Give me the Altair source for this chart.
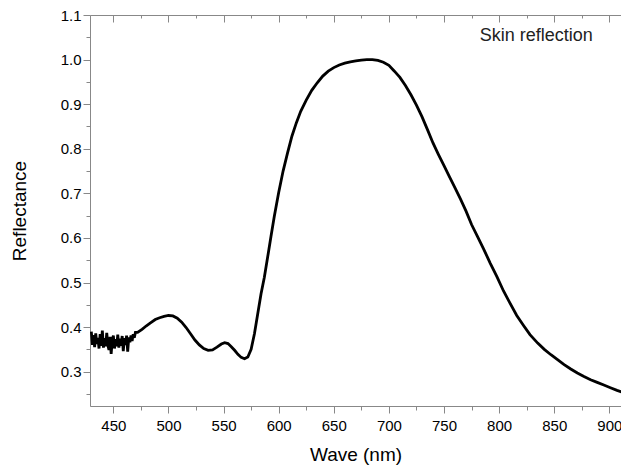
import altair as alt
import pandas as pd

# Noisy low-wavelength region (1 nm steps)
noisy_wave = list(range(430, 471))
noisy_refl = [0.390, 0.360, 0.382, 0.355, 0.386, 0.362, 0.376, 0.352, 0.384, 0.358,
              0.392, 0.354, 0.375, 0.357, 0.387, 0.360, 0.349, 0.378, 0.340, 0.371,
              0.381, 0.352, 0.373, 0.357, 0.383, 0.354, 0.374, 0.358, 0.380, 0.346,
              0.375, 0.360, 0.381, 0.345, 0.377, 0.366, 0.381, 0.369, 0.384, 0.376,
              0.388]

# Smooth part of the spectrum
smooth_wave = [472, 476, 480, 484, 488, 492, 496, 500, 504, 508, 512, 516, 520, 524,
               528, 532, 536, 540, 544, 548, 551, 554, 557, 560, 563, 566, 569, 572,
               575, 578, 581, 584, 587, 590, 593, 596, 600, 604, 608, 612, 616, 620,
               625, 630, 635, 640, 645, 650, 655, 660, 665, 670, 675, 680, 685, 690,
               695, 700, 705, 710, 715, 720, 725, 730, 735, 740, 745, 750, 755, 760,
               765, 770, 775, 780, 786, 792, 798, 804, 810, 816, 822, 828, 835, 841,
               847, 853, 859, 865, 871, 877, 883, 889, 895, 901, 907, 913, 918]
smooth_refl = [0.388, 0.395, 0.403, 0.410, 0.417, 0.421, 0.424, 0.426, 0.425, 0.420,
               0.411, 0.399, 0.385, 0.371, 0.360, 0.352, 0.348, 0.349, 0.355, 0.362,
               0.365, 0.363, 0.356, 0.348, 0.339, 0.332, 0.329, 0.333, 0.350, 0.385,
               0.430, 0.475, 0.512, 0.557, 0.603, 0.648, 0.702, 0.750, 0.790, 0.828,
               0.858, 0.884, 0.909, 0.931, 0.948, 0.963, 0.974, 0.982, 0.988, 0.992,
               0.995, 0.997, 0.999, 1.000, 1.000, 0.998, 0.994, 0.987, 0.974, 0.960,
               0.942, 0.921, 0.898, 0.872, 0.843, 0.813, 0.787, 0.762, 0.737, 0.712,
               0.687, 0.660, 0.630, 0.605, 0.575, 0.543, 0.513, 0.481, 0.453, 0.426,
               0.404, 0.383, 0.364, 0.350, 0.338, 0.327, 0.316, 0.306, 0.297, 0.289,
               0.282, 0.276, 0.270, 0.264, 0.258, 0.253, 0.248]

x_major = [450, 500, 550, 600, 650, 700, 750, 800, 850, 900]
x_minor = [475, 525, 575, 625, 675, 725, 775, 825, 875]
y_major = [0.3, 0.4, 0.5, 0.6, 0.7, 0.8, 0.9, 1.0, 1.1]
y_minor = [0.25, 0.35, 0.45, 0.55, 0.65, 0.75, 0.85, 0.95, 1.05]
x_domain = [428.8, 910.6]
y_domain = [0.223, 1.1]

label_text = ["Skin reflection"]
label_wave = [782.5]
label_refl = [1.042]

df = pd.DataFrame({"wave": noisy_wave + smooth_wave, "refl": noisy_refl + smooth_refl})
lab = pd.DataFrame({"wave": label_wave, "refl": label_refl, "text": label_text})

FONT = "Liberation Sans"
xs = alt.Scale(domain=x_domain, nice=False, zero=False)
ys = alt.Scale(domain=y_domain, nice=False, zero=False)

base = alt.Chart(df)

main = base.mark_line(color="black", strokeWidth=2.8, clip=True).encode(
    x=alt.X("wave:Q", scale=xs, axis=alt.Axis(
        values=x_major, tickSize=7, labelFontSize=15, labelPadding=5,
        title="Wave (nm)", titleFontSize=19, titleFontWeight="normal", titlePadding=12,
        grid=False, orient="bottom")),
    y=alt.Y("refl:Q", scale=ys, axis=alt.Axis(
        values=y_major, format=".1f", tickSize=7, labelFontSize=15, labelPadding=2,
        title="Reflectance", titleFontSize=19, titleFontWeight="normal", titlePadding=31,
        grid=False, orient="left")),
)

minor_bl = base.mark_line(opacity=0).encode(
    x=alt.X("wave:Q", scale=xs, axis=alt.Axis(
        values=x_minor, tickSize=4, labels=False, domain=False, title=None,
        grid=False, orient="bottom")),
    y=alt.Y("refl:Q", scale=ys, axis=alt.Axis(
        values=y_minor, tickSize=4, labels=False, domain=False, title=None,
        grid=False, orient="left")),
)

top_line = base.mark_line(opacity=0).encode(
    x=alt.X("wave:Q", scale=xs, axis=alt.Axis(
        ticks=False, labels=False, domain=True, title=None,
        grid=False, orient="top")),
    y=alt.Y("refl:Q", scale=ys, axis=None),
)

top_major = base.mark_line(opacity=0).encode(
    x=alt.X("wave:Q", scale=xs, axis=alt.Axis(
        values=x_major, tickSize=7, offset=-7, labels=False, domain=False, title=None,
        grid=False, orient="top")),
    y=alt.Y("refl:Q", scale=ys, axis=None),
)

top_minor = base.mark_line(opacity=0).encode(
    x=alt.X("wave:Q", scale=xs, axis=alt.Axis(
        values=x_minor, tickSize=3, offset=-3, labels=False, domain=False, title=None,
        grid=False, orient="top")),
    y=alt.Y("refl:Q", scale=ys, axis=None),
)

text = alt.Chart(lab).mark_text(align="left", baseline="alphabetic", fontSize=18,
                                font=FONT, color="#222").encode(
    x=alt.X("wave:Q", scale=xs, axis=None),
    y=alt.Y("refl:Q", scale=ys, axis=None),
    text="text:N",
)

chart = alt.layer(main, minor_bl, top_line, top_major, top_minor, text).resolve_axis(
    x="independent", y="independent"
).properties(
    width=531, height=391,
    autosize=alt.AutoSizeParams(type="none"),
    padding={"left": 82, "top": 7, "right": 0, "bottom": 60},
).configure_view(
    strokeWidth=0
).configure_axis(
    domainColor="black", domainWidth=1.5, tickColor="black", tickWidth=1.5,
    labelColor="#222", titleColor="#222", labelFont=FONT, titleFont=FONT,
).configure(background="white")

chart.save("out.html", embed_options={"renderer": "svg", "actions": False})
